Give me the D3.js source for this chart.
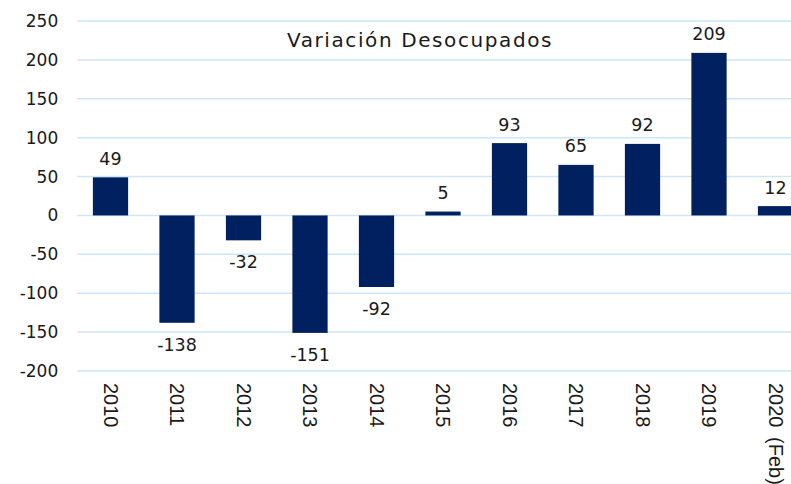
<!doctype html>
<html lang="es">
<head>
<meta charset="UTF-8">
<title>Variación Desocupados</title>
<script src="https://cdnjs.cloudflare.com/ajax/libs/d3/7.8.5/d3.min.js"></script>
<style>
	body { margin: 0; background: #fff; overflow: hidden; }
	text { font-family: "DejaVu Sans", sans-serif; fill: #1a1a1a; }
</style>
</head>
<body>
<script>
	var w = 791, h = 484;

	var categories = ["2010", "2011", "2012", "2013", "2014", "2015", "2016", "2017", "2018", "2019", "2020 (Feb)"];
	var values = [49, -138, -32, -151, -92, 5, 93, 65, 92, 209, 12];
	var yTicks = [-200, -150, -100, -50, 0, 50, 100, 150, 200, 250];
	var title = "Variación Desocupados";

	// plot area (runs past the right edge, like the original)
	var pLeft = 77.25, pRight = 808.75, pTop = 21, pBottom = 371;

	var svg = d3.select("body").append("svg")
		.attr("width", w)
		.attr("height", h);

	var x = d3.scaleBand()
		.domain(categories)
		.range([pLeft, pRight])
		.paddingInner(0.47)
		.paddingOuter(0.235);

	var y = d3.scaleLinear()
		.domain([-200, 250])
		.range([pBottom, pTop]);

	function fmt(d) { return d < 0 ? "-" + Math.abs(d) : String(d); }

	// grid
	svg.append("g")
		.selectAll("line")
		.data(yTicks)
		.enter()
		.append("line")
		.attr("x1", pLeft)
		.attr("x2", pRight)
		.attr("y1", function(d) { return y(d); })
		.attr("y2", function(d) { return y(d); })
		.attr("stroke", "#cde6f8")
		.attr("stroke-width", 1.5);

	// y axis labels
	var yAxis = d3.axisLeft(y).tickValues(yTicks).tickSize(0).tickPadding(19).tickFormat(fmt);
	svg.append("g")
		.attr("transform", "translate(" + pLeft + ",0)")
		.call(yAxis)
		.call(function(g) { g.select(".domain").remove(); })
		.selectAll("text")
		.attr("font-family", "DejaVu Sans, sans-serif")
		.attr("font-size", "17px")
		.attr("fill", "#1a1a1a");

	// bars
	svg.append("g")
		.selectAll("rect")
		.data(values)
		.enter()
		.append("rect")
		.attr("x", function(d, i) { return x(categories[i]); })
		.attr("y", function(d) { return y(Math.max(0, d)); })
		.attr("width", x.bandwidth())
		.attr("height", function(d) { return Math.abs(y(d) - y(0)); })
		.attr("fill", "#002060");

	// value labels
	svg.append("g")
		.selectAll("text")
		.data(values)
		.enter()
		.append("text")
		.attr("text-anchor", "middle")
		.attr("x", function(d, i) { return x(categories[i]) + x.bandwidth() / 2; })
		.attr("y", function(d) { return d >= 0 ? y(d) - 12.5 : y(d) + 28; })
		.attr("font-size", "17.5px")
		.text(fmt);

	// x labels, rotated
	svg.append("g")
		.selectAll("text")
		.data(categories)
		.enter()
		.append("text")
		.attr("transform", function(d) {
			return "translate(" + (x(d) + x.bandwidth() / 2) + "," + (pBottom + 12) + ") rotate(90)";
		})
		.attr("dy", "0.35em")
		.attr("text-anchor", "start")
		.style("font-family", "'Liberation Sans', Arial, sans-serif")
		.attr("font-size", "20px")
		.attr("word-spacing", "4px")
		.text(function(d) { return d; });

	// title
	svg.append("text")
		.attr("x", 420)
		.attr("y", 47)
		.attr("text-anchor", "middle")
		.attr("font-size", "20px")
		.attr("letter-spacing", "1.6px")
		.text(title);
</script>
</body>
</html>
